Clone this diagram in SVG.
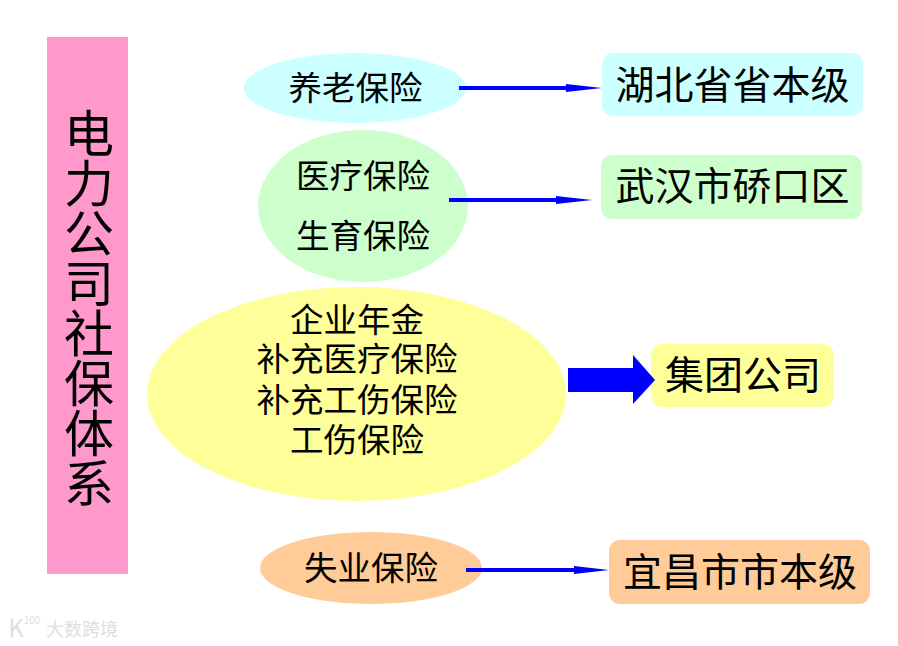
<svg xmlns="http://www.w3.org/2000/svg" width="898" height="646" viewBox="0 0 898 646">
<style>
text{font-family:"Noto Sans CJK SC","Liberation Sans",sans-serif;fill:#000;text-anchor:middle}
.s{font-size:33.5px}
.m{font-size:39px}
.w{fill:#dedede}
.line{stroke:#0000ff;stroke-width:4;fill:none}
.head{fill:#0000ff}
</style>
<rect width="898" height="646" fill="#fff"/>
<g id="title"><rect x="47" y="37" width="81" height="537" fill="#ff99cc"/>
<text x="89" y="308" font-size="50" style="writing-mode:vertical-rl">电力公司社保体系</text></g>
<g id="n1"><ellipse cx="355" cy="88" rx="111" ry="35" fill="#ccffff"/><text class="s" x="355.500" y="100">养老保险</text></g>
<g id="n2"><ellipse cx="363" cy="206" rx="105" ry="76" fill="#ccffcc"/><text class="s" x="363" y="188">医疗保险</text><text class="s" x="363" y="248">生育保险</text></g>
<g id="n3"><ellipse cx="356.500" cy="394" rx="209.500" ry="107" fill="#ffff99"/><text class="s" x="357" y="332">企业年金</text><text class="s" x="357" y="371">补充医疗保险</text><text class="s" x="357" y="412">补充工伤保险</text><text class="s" x="357" y="452">工伤保险</text></g>
<g id="n4"><ellipse cx="371" cy="568" rx="111" ry="36" fill="#ffcc99"/><text class="s" x="371" y="580">失业保险</text></g>
<g id="r1"><rect x="602" y="53" width="261" height="63" rx="11" fill="#ccffff"/><text class="m" x="732.500" y="99">湖北省省本级</text></g>
<g id="r2"><rect x="601" y="155" width="261" height="64" rx="11" fill="#ccffcc"/><text class="m" x="732.500" y="200">武汉市硚口区</text></g>
<g id="r3"><rect x="651" y="344" width="183" height="63" rx="11" fill="#ffff99"/><text class="m" x="743" y="389">集团公司</text></g>
<g id="r4"><rect x="609" y="540" width="261" height="64" rx="11" fill="#ffcc99"/><text class="m" x="740" y="586">宜昌市市本级</text></g>
<g id="connectors">
<path class="line" d="M459 88H570"/><path class="head" d="M566 84L602 88L566 92Z"/>
<path class="line" d="M449 200H560"/><path class="head" d="M556 196L592 200L556 204Z"/>
<path class="line" d="M466 570H578"/><path class="head" d="M574 566L609 570L574 574Z"/>
<path class="head" d="M568 368H633V355L655 380L633 404V392H568Z"/>
</g>
<g id="watermark"><text class="w" x="16" y="637" font-size="24">K</text><text class="w" x="32" y="624" font-size="10">100</text><text class="w" x="82" y="636" font-size="18">大数跨境</text></g>
</svg>
